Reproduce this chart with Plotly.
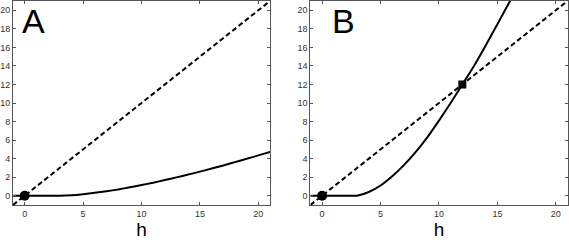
import plotly.graph_objects as go
from plotly.subplots import make_subplots

# identity (dashed) line
h_line = [-1, 21]
# steady-state response curves
h_vals = [-1, 0, 1, 2, 3, 4, 5, 6, 7, 8, 9, 10, 11, 12, 13, 14, 15, 16, 17, 18, 19, 20, 21]
resp_a = [0, 0, 0, 0, 0, 0.05, 0.16, 0.31, 0.48, 0.68, 0.91, 1.15, 1.41, 1.69, 1.98,
          2.28, 2.60, 2.93, 3.27, 3.62, 3.98, 4.35, 4.73]
h_b = [-1, 0, 1, 2, 3, 4, 5, 6, 7, 8, 9, 10, 11, 12, 13, 14, 15, 16, 17]
resp_b = [0, 0, 0, 0, 0, 0.4, 1.1, 2.1, 3.3, 4.7, 6.3, 8.1, 10.0, 12.0, 14.0, 16.2,
          18.5, 20.8, 23.1]
# fixed points
stable_a = ([0], [0])
stable_b = ([0], [0])
unstable_b = ([12], [12])

panel_labels = ["A", "B"]
x_ticks = [0, 5, 10, 15, 20]
y_ticks = [0, 2, 4, 6, 8, 10, 12, 14, 16, 18, 20]

W, H = 569, 243
fig = make_subplots(rows=1, cols=2)

for col, (hx, ry) in enumerate([(h_vals, resp_a), (h_b, resp_b)], start=1):
    fig.add_trace(go.Scatter(x=h_line, y=h_line, mode="lines",
                             line=dict(color="black", width=2, dash="5px,3px")),
                  row=1, col=col)
    fig.add_trace(go.Scatter(x=hx, y=ry, mode="lines",
                             line=dict(color="black", width=2, shape="spline", smoothing=0.5)),
                  row=1, col=col)

fig.add_trace(go.Scatter(x=stable_a[0], y=stable_a[1], mode="markers",
                         marker=dict(symbol="circle", size=10, color="black")), row=1, col=1)
fig.add_trace(go.Scatter(x=stable_b[0], y=stable_b[1], mode="markers",
                         marker=dict(symbol="circle", size=10, color="black")), row=1, col=2)
fig.add_trace(go.Scatter(x=unstable_b[0], y=unstable_b[1], mode="markers",
                         marker=dict(symbol="square", size=8, color="black")), row=1, col=2)

axis_common = dict(showline=True, linecolor="#555555", linewidth=1, mirror="ticks",
                   ticks="inside", ticklen=3, tickcolor="#555555", showgrid=False,
                   zeroline=False, tickfont=dict(family="Liberation Sans, Arial", size=9,
                                                 color="#333333"))

fig.update_xaxes(range=[-1, 21], tickvals=x_ticks, **axis_common)
fig.update_yaxes(range=[-1, 21], tickvals=y_ticks, **axis_common)
fig.update_xaxes(title=dict(text="h", font=dict(family="Liberation Sans, Arial", size=19,
                                                 color="black"), standoff=4))
fig.layout.xaxis.domain = [12 / W, 270 / W]
fig.layout.xaxis2.domain = [310.5 / W, 568.5 / W]

plot_h = H - 38
annots = []
for lbl, px in zip(panel_labels, [32.5, 344]):
    annots.append(dict(text=lbl, x=px / W, y=(plot_h - 20) / plot_h, xref="paper", yref="paper",
                       xanchor="center", yanchor="middle", showarrow=False,
                       font=dict(family="Liberation Sans, Arial", size=34, color="black")))
fig.update_layout(annotations=annots, width=W, height=H, showlegend=False,
                  margin=dict(l=0, r=0, t=0, b=38), paper_bgcolor="white",
                  plot_bgcolor="white")

fig.write_html("out.html", config={"displayModeBar": False},
               post_script="document.body.style.margin='0';document.body.style.overflow='hidden';")
